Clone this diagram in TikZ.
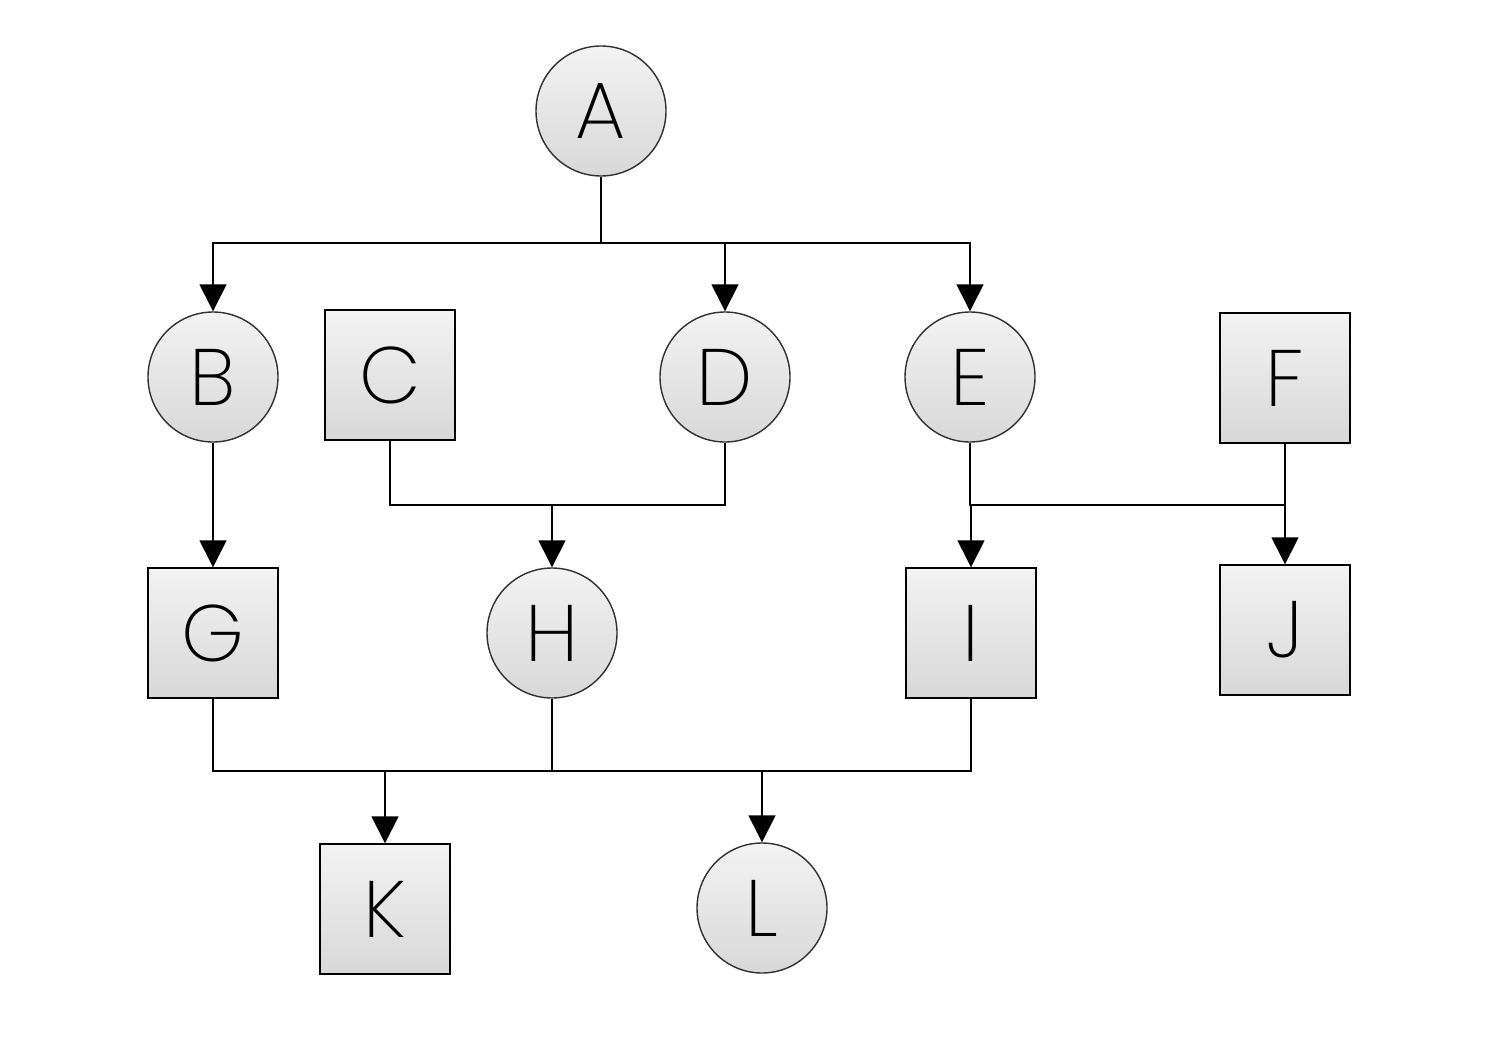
\documentclass[tikz,border=0pt]{standalone}
\usepackage{fontspec}
\newfontfamily\lblfont{Poppins}[UprightFont={* ExtraLight}]
\usetikzlibrary{arrows.meta}
\definecolor{shadetop}{HTML}{F3F3F3}
\definecolor{shadebot}{HTML}{D8D8D8}
\definecolor{rim}{HTML}{303030}
\tikzset{
  x=0.5pt, y=-0.5pt,
  base/.style={inner sep=0pt, top color=shadetop, bottom color=shadebot,
    font=\lblfont\fontsize{40}{40}\selectfont, line width=0.7pt},
  roundnode/.style={base, circle, draw=rim, minimum size=65pt},
  boxnode/.style={base, rectangle, draw=black, minimum size=65pt},
  link/.style={line width=0.7pt, draw=black},
  feed/.style={link, -{Triangle[width=13.5pt,length=13.5pt]}},
}
\begin{document}
\begin{tikzpicture}
\useasboundingbox (0,0) rectangle (1492,1059);
% level 0
\node[roundnode] (A) at (601,111) {A};
% level 1
\node[roundnode] (B) at (213,377) {B};
\node[boxnode]   (C) at (390,375) {C};
\node[roundnode] (D) at (725,377) {D};
\node[roundnode] (E) at (970,377) {E};
\node[boxnode]   (F) at (1285,378) {F};
% level 2
\node[boxnode]   (G) at (213,633) {G};
\node[roundnode] (H) at (552,633) {H};
\node[boxnode]   (I) at (971,633) {I};
\node[boxnode]   (J) at (1285,630) {J};
% level 3
\node[boxnode]   (K) at (385,909) {K};
\node[roundnode] (L) at (762,908) {L};

% junction points
\coordinate (ja) at (601,243);
\coordinate (jcd) at (552,505);
\coordinate (jef) at (971,505);
\coordinate (jghi) at (552,771);

% A fans out to B, D, E
\draw[link] (A) -- (ja);
\draw[feed] (ja) -| (B);
\draw[feed] (ja) -| (D);
\draw[feed] (ja) -| (E);
% B feeds G
\draw[feed] (B) -- (G);
% C and D merge into H
\draw[link] (C.south) |- (jcd);
\draw[link] (D.south) |- (jcd);
\draw[feed] (jcd) -- (H);
% E and F feed I and J
\draw[link] (E.south) |- (jef);
\draw[link] (F.south) |- (jef);
\draw[feed] (jef) -- (I);
\draw[feed] (jef) -| (J);
% G, H, I merge into K and L
\draw[link] (G.south) |- (jghi);
\draw[link] (I.south) |- (jghi);
\draw[link] (H) -- (jghi);
\draw[feed] (jghi) -| (K);
\draw[feed] (jghi) -| (L);
\end{tikzpicture}
\end{document}
